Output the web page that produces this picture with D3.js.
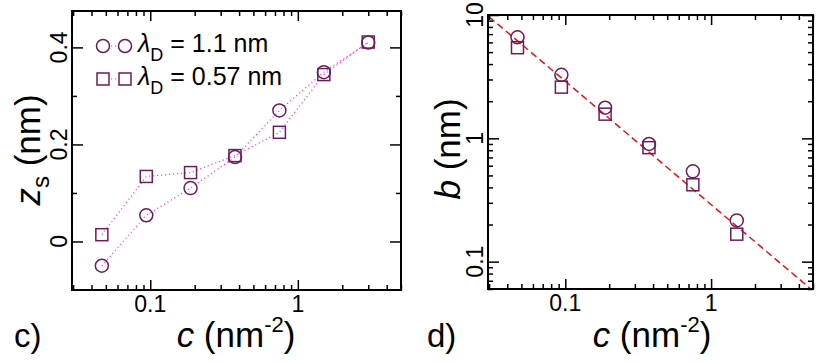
<!DOCTYPE html>
<html>
<head>
<meta charset="utf-8">
<script src="https://cdn.jsdelivr.net/npm/d3@7"></script>
<style>
  body { margin: 0; background: #fff; }
  svg { display: block; font-family: "Liberation Sans", Arial, sans-serif; }
</style>
</head>
<body>
<div id="svg-container"></div>
<script>
// concentrations (nm^-2)
const concZs = [0.047, 0.094, 0.1875, 0.375, 0.75, 1.5, 3.0];
const concB = [0.047, 0.094, 0.1875, 0.375, 0.75, 1.5];

// panel c) z_s (nm)
const zsLong = [-0.05, 0.054, 0.11, 0.174, 0.27, 0.349, 0.41];
const zsShort = [0.014, 0.134, 0.142, 0.177, 0.225, 0.344, 0.411];

// panel d) b (nm)
const bLong = [6.6, 3.27, 1.77, 0.9, 0.54, 0.216];
const bShort = [5.43, 2.6, 1.57, 0.84, 0.42, 0.167];

// dashed guide line, b ~ 1/c
const fitC = [0.03, 5];
const fitB = [9.67, 0.058];

const legendLabels = ["1.1 nm", "0.57 nm"];
const xTickLabels = [0.1, 1];
const zsTickLabels = [0, 0.2, 0.4];
const zsMinor = [0.1, 0.3];
const bTickLabels = [0.1, 1, 10];

const markColor = "#6b1d5c";
const lineColor = "#ff33ff";

const svg = d3.select("#svg-container")
    .append("svg")
    .attr("width", 830)
    .attr("height", 362);

const drawFrame = (g, x, y, xMajor, xMinor, yMajor, yMinor) => {
    let [x0, x1] = x.range();
    let [y0, y1] = y.range();

    // ticks inward, on all four sides
    g.append("g").attr("transform", `translate(0,${y0})`)
        .call(d3.axisBottom(x).tickValues(xMajor).tickSize(-10).tickFormat(""));
    g.append("g").attr("transform", `translate(0,${y0})`)
        .call(d3.axisBottom(x).tickValues(xMinor).tickSize(-5).tickFormat(""));
    g.append("g").attr("transform", `translate(0,${y1})`)
        .call(d3.axisTop(x).tickValues(xMajor).tickSize(-10).tickFormat(""));
    g.append("g").attr("transform", `translate(0,${y1})`)
        .call(d3.axisTop(x).tickValues(xMinor).tickSize(-5).tickFormat(""));
    g.append("g").attr("transform", `translate(${x0},0)`)
        .call(d3.axisLeft(y).tickValues(yMajor).tickSize(-11).tickFormat(""));
    g.append("g").attr("transform", `translate(${x0},0)`)
        .call(d3.axisLeft(y).tickValues(yMinor).tickSize(-5).tickFormat(""));
    g.append("g").attr("transform", `translate(${x1},0)`)
        .call(d3.axisRight(y).tickValues(yMajor).tickSize(-11).tickFormat(""));
    g.append("g").attr("transform", `translate(${x1},0)`)
        .call(d3.axisRight(y).tickValues(yMinor).tickSize(-5).tickFormat(""));

    g.selectAll(".domain").remove();
    g.selectAll(".tick line").attr("stroke", "#000").attr("stroke-width", 1.5);

    g.append("rect")
        .attr("x", x0).attr("y", y1)
        .attr("width", x1 - x0).attr("height", y0 - y1)
        .attr("fill", "none").attr("stroke", "#000").attr("stroke-width", 2);

    // x tick labels
    g.selectAll(".xlab")
        .data(xTickLabels)
        .enter()
        .append("text")
        .attr("x", d => x(d))
        .attr("y", y0 + 22)
        .attr("text-anchor", "middle")
        .attr("font-size", 23)
        .text(d => d);
};

const yLabels = (g, x, y, vals, fmt) => {
    let x0 = x.range()[0];
    g.selectAll(".ylab")
        .data(vals)
        .enter()
        .append("text")
        .attr("transform", d => `translate(${x0 - 5},${y(d)}) rotate(-90)`)
        .attr("text-anchor", "middle")
        .attr("font-size", 23)
        .text(fmt);
};

const xTitle = (g, cx) => {
    let t = g.append("text")
        .attr("x", cx)
        .attr("y", 347)
        .attr("text-anchor", "middle")
        .attr("font-size", 35);
    t.append("tspan").attr("font-style", "italic").text("c");
    t.append("tspan").text(" (nm");
    t.append("tspan").attr("font-size", 22).attr("dy", -15).text("-2");
    t.append("tspan").attr("dy", 15).text(")");
};

const drawMarkers = (g, x, y, cs, vals, shape) => {
    if (shape === "circle") {
        g.selectAll(null)
            .data(vals)
            .enter()
            .append("circle")
            .attr("cx", (d, i) => x(cs[i]))
            .attr("cy", d => y(d))
            .attr("r", 6.5)
            .attr("fill", "none")
            .attr("stroke", markColor)
            .attr("stroke-width", 1.5);
    } else {
        g.selectAll(null)
            .data(vals)
            .enter()
            .append("rect")
            .attr("x", (d, i) => x(cs[i]) - 6)
            .attr("y", d => y(d) - 6)
            .attr("width", 12)
            .attr("height", 12)
            .attr("fill", "none")
            .attr("stroke", markColor)
            .attr("stroke-width", 1.5);
    }
};

const dotted = (g, x, y, cs, vals) => {
    let line = d3.line().x((d, i) => x(cs[i])).y(d => y(d));
    g.append("path")
        .attr("d", line(vals))
        .attr("fill", "none")
        .attr("stroke", lineColor)
        .attr("stroke-width", 1.2)
        .attr("stroke-dasharray", "1.2,2.8");
};

// ---------- panel c ----------
const buildLeft = () => {
    let g = svg.append("g");
    let x = d3.scaleLog().domain([0.0295, 5]).range([72, 401]);
    let y = d3.scaleLinear().domain([-0.1, 0.475]).range([290, 11]);
    let xMinor = x.ticks().filter(d => !xTickLabels.includes(d));

    dotted(g, x, y, concZs, zsLong);
    dotted(g, x, y, concZs, zsShort);
    drawMarkers(g, x, y, concZs, zsLong, "circle");
    drawMarkers(g, x, y, concZs, zsShort, "square");

    drawFrame(g, x, y, xTickLabels, xMinor, zsTickLabels, zsMinor);
    yLabels(g, x, y, zsTickLabels, d => d);

    // legend
    let rows = [46, 79];
    legendLabels.forEach((lab, i) => {
        let ly = rows[i];
        g.append("line")
            .attr("x1", 103).attr("x2", 125).attr("y1", ly).attr("y2", ly)
            .attr("stroke", lineColor).attr("stroke-width", 1.2)
            .attr("stroke-dasharray", "1.2,2.8");
        [103, 125].forEach(mx => {
            if (i === 0) {
                g.append("circle").attr("cx", mx).attr("cy", ly).attr("r", 6.5)
                    .attr("fill", "#fff").attr("stroke", markColor).attr("stroke-width", 1.5);
            } else {
                g.append("rect").attr("x", mx - 6).attr("y", ly - 6)
                    .attr("width", 12).attr("height", 12)
                    .attr("fill", "#fff").attr("stroke", markColor).attr("stroke-width", 1.5);
            }
        });
        let t = g.append("text").attr("x", 138).attr("y", ly + 6).attr("font-size", 25);
        t.append("tspan").attr("font-style", "italic").text("λ");
        t.append("tspan").attr("font-size", 18).attr("dy", 9).text("D");
        t.append("tspan").attr("dy", -9).text(" = " + lab);
    });

    // axis title
    let t = g.append("text")
        .attr("transform", "translate(40,150) rotate(-90)")
        .attr("text-anchor", "middle")
        .attr("font-size", 35);
    t.append("tspan").attr("font-style", "italic").text("z");
    t.append("tspan").attr("font-size", 24).attr("dy", 9).text("s");
    t.append("tspan").attr("dy", -9).text(" (nm)");

    xTitle(g, 236);
    g.append("text").attr("x", 14).attr("y", 347).attr("font-size", 33).text("c)");
};

// ---------- panel d ----------
const buildRight = () => {
    let g = svg.append("g");
    let x = d3.scaleLog().domain([0.0295, 5]).range([488, 813]);
    let y = d3.scaleLog().domain([0.06, 10]).range([289, 15]);
    let xMinor = x.ticks().filter(d => !xTickLabels.includes(d));
    let yMinor = y.ticks().filter(d => !bTickLabels.includes(d));

    g.append("clipPath").attr("id", "clipd")
        .append("rect").attr("x", 488).attr("y", 15).attr("width", 325).attr("height", 274);

    let line = d3.line().x(d => x(d[0])).y(d => y(d[1]));
    g.append("path")
        .attr("d", line(d3.zip(fitC, fitB)))
        .attr("clip-path", "url(#clipd)")
        .attr("fill", "none")
        .attr("stroke", "#ee1111")
        .attr("stroke-width", 1.5)
        .attr("stroke-dasharray", "7,4");

    drawMarkers(g, x, y, concB, bLong, "circle");
    drawMarkers(g, x, y, concB, bShort, "square");

    drawFrame(g, x, y, xTickLabels, xMinor, bTickLabels, yMinor);
    yLabels(g, x, y, bTickLabels, d => d);

    let t = g.append("text")
        .attr("transform", "translate(460,149) rotate(-90)")
        .attr("text-anchor", "middle")
        .attr("font-size", 35);
    t.append("tspan").attr("font-style", "italic").text("b");
    t.append("tspan").text(" (nm)");

    xTitle(g, 652);
    g.append("text").attr("x", 427).attr("y", 347).attr("font-size", 33).text("d)");
};

buildLeft();
buildRight();
</script>
</body>
</html>
